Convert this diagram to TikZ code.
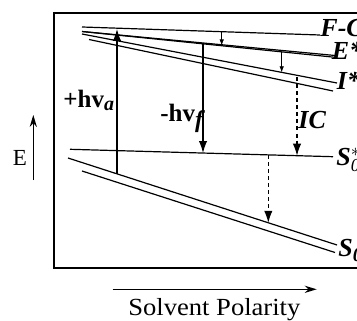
\documentclass[tikz,border=0pt]{standalone}
\usepackage{fontspec}
\setmainfont{Liberation Serif}
\usetikzlibrary{arrows.meta}
\begin{document}
\begin{tikzpicture}[x=0.5pt,y=-0.5pt,
  lvl/.style={line width=0.6pt},
  tr/.style={line width=0.6pt,-{Latex[length=6pt,width=4.2pt]}},
  dtr/.style={line width=0.6pt,dash pattern=on 2pt off 1.5pt,-{Latex[length=6pt,width=4.2pt]}},
  sm/.style={line width=0.35pt,-{Latex[length=3pt,width=2.2pt]}},
  lab/.style={anchor=base west,inner sep=0pt,font=\fontsize{12.5}{14}\selectfont\bfseries},
  rlab/.style={anchor=base west,inner sep=0pt,font=\fontsize{13}{15}\selectfont\bfseries\itshape},
  axarr/.style={line width=0.6pt,-{Stealth[length=6pt,width=3.6pt]}}]
\useasboundingbox (0,0) rectangle (357,320);
\clip (0,0) rectangle (357,320);
% frame
\draw[line width=0.85pt] (380,13) -- (54,13) -- (54,268) -- (380,268);
% level coordinates
\coordinate (FCa) at (82,27);   \coordinate (FCb) at (320,35);
\coordinate (Ea) at (82,31.5);  \coordinate (Eb1) at (335,55.5); \coordinate (Eb2) at (335,57.3);
\coordinate (Ia) at (82,34);    \coordinate (Ib) at (337,83);
\coordinate (Ja) at (89,39.5);  \coordinate (Jb) at (333,91);
\coordinate (Sa) at (70,149.3); \coordinate (Sb) at (333,156.7);
\coordinate (Ga) at (68,158);   \coordinate (Gb) at (337,245);
\coordinate (Ha) at (82,171);   \coordinate (Hb) at (335,252.5);
\draw[lvl] (FCa) -- (FCb);
\draw[lvl] (Ea) -- (Eb1);
\draw[lvl] (Ea) -- (Eb2);
\draw[lvl] (Ia) -- (Ib);
\draw[lvl] (Ja) -- (Jb);
\draw[lvl] (Sa) -- (Sb);
\draw[lvl] (Ga) -- (Gb);
\draw[lvl] (Ha) -- (Hb);
% transition end points
\coordinate (abs0) at (117,174);   \coordinate (abs1) at (117,29);
\coordinate (fl0) at (203,43.4);   \coordinate (fl1) at (203,153);
\coordinate (ic0) at (297,77.5);   \coordinate (ic1) at (297,155.7);
\coordinate (nr0) at (268.3,155);  \coordinate (nr1) at (268.3,222.8);
\coordinate (fe0) at (221.7,31.7); \coordinate (fe1) at (221.7,45.5);
\coordinate (ei0) at (281.7,51.6); \coordinate (ei1) at (281.7,72.4);
\draw[tr] (abs0) -- (abs1);
\draw[tr] (fl0) -- (fl1);
\draw[dtr] (ic0) -- (ic1);
\draw[dtr] (nr0) -- (nr1);
\draw[sm] (fe0) -- (fe1);
\draw[sm] (ei0) -- (ei1);
% labels
\node[lab] (la) at (63,108) {+hv\raisebox{-0.25ex}{\fontsize{10}{11}\selectfont\itshape a}};
\node[lab] (lf) at (160,121.5) {-hv\raisebox{-0.5ex}{\fontsize{12}{13}\selectfont\itshape f}};
\node[lab,font=\fontsize{13}{15}\selectfont\bfseries\itshape] (lic) at (298,128) {IC};
\node[rlab] (lfc) at (320,36.5) {F-C};
\node[rlab] (le) at (331.5,60) {E*};
\node[rlab] (li) at (336.5,90) {I*};
\node[rlab] (ls1) at (336,165) {S$^{\ast}_{\mathit{0}}$};
\node[rlab] (ls0) at (338,256.5) {S\raisebox{-0.4ex}{\fontsize{10}{11}\selectfont 0}};
% axes
\coordinate (ea0) at (33.3,180); \coordinate (ea1) at (33.3,115);
\draw[axarr] (ea0) -- (ea1);
\node[anchor=base west,inner sep=0pt,font=\fontsize{11.5}{13}\selectfont] (E) at (12.5,165) {E};
\coordinate (sp0) at (112.7,289.3); \coordinate (sp1) at (316.7,289.3);
\draw[axarr] (sp0) -- (sp1);
\node[anchor=base west,inner sep=0pt,font=\fontsize{12.3}{14}\selectfont] (sp) at (128,315) {\scalebox{1.08}[1]{Solvent Polarity}};
\end{tikzpicture}
\end{document}
